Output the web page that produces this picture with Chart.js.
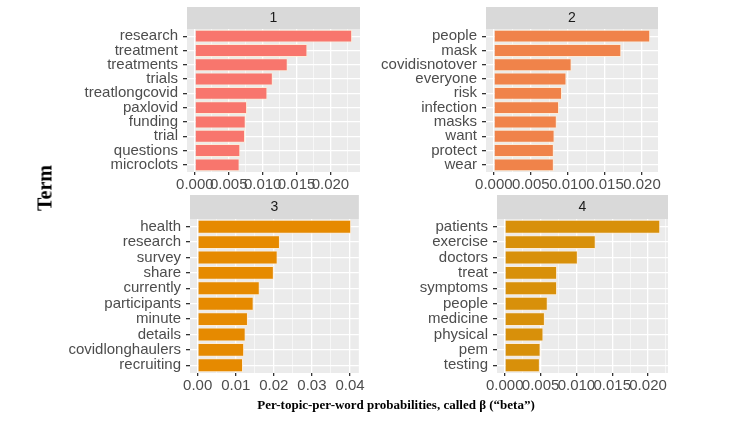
<!DOCTYPE html>
<html>
<head>
<meta charset="utf-8">
<script src="https://cdn.jsdelivr.net/npm/chart.js@4.4.1/dist/chart.umd.min.js"></script>
<style>
  body { margin: 0; background: #ffffff; }
  #wrap { position: relative; width: 750px; height: 422px; overflow: hidden; background: #fff; }
  canvas { position: absolute; }
  .axis-title { position: absolute; font-family: "Liberation Serif", "DejaVu Serif", serif; font-weight: bold; color: #000; white-space: nowrap; }
  #yTitle { left: 45px; top: 188px; font-size: 20px; transform: translate(-50%, -50%) rotate(-90deg); }
  #xTitle { left: 396px; top: 405px; font-size: 13px; transform: translate(-50%, -50%); }
</style>
</head>
<body>
<div id="wrap">
  <canvas id="p1" width="365" height="195" style="left:0px;top:0px"></canvas>
  <canvas id="p2" width="290" height="195" style="left:375px;top:0px"></canvas>
  <canvas id="p3" width="366" height="206" style="left:0px;top:190px"></canvas>
  <canvas id="p4" width="298" height="206" style="left:375px;top:190px"></canvas>
  <div id="yTitle" class="axis-title">Term</div>
  <div id="xTitle" class="axis-title">Per-topic-per-word probabilities, called β (“beta”)</div>
</div>
<script>
// Topic 1
const terms1 = ['research', 'treatment', 'treatments', 'trials', 'treatlongcovid', 'paxlovid', 'funding', 'trial', 'questions', 'microclots'];
const beta1 = [0.0232, 0.0166, 0.0137, 0.0115, 0.0107, 0.0077, 0.0075, 0.0074, 0.0067, 0.0066];

// Topic 2
const terms2 = ['people', 'mask', 'covidisnotover', 'everyone', 'risk', 'infection', 'masks', 'want', 'protect', 'wear'];
const beta2 = [0.0211, 0.0172, 0.0105, 0.0098, 0.0092, 0.0088, 0.0085, 0.0082, 0.0081, 0.0081];

// Topic 3
const terms3 = ['health', 'research', 'survey', 'share', 'currently', 'participants', 'minute', 'details', 'covidlonghaulers', 'recruiting'];
const beta3 = [0.0403, 0.0216, 0.0210, 0.0200, 0.0163, 0.0147, 0.0132, 0.0126, 0.0122, 0.0119];

// Topic 4
const terms4 = ['patients', 'exercise', 'doctors', 'treat', 'symptoms', 'people', 'medicine', 'physical', 'pem', 'testing'];
const beta4 = [0.0217, 0.0127, 0.0102, 0.0073, 0.0073, 0.0060, 0.0056, 0.0054, 0.0050, 0.0049];

// x axis ticks (major + minor grid)
const ticksSmall = [0, 0.005, 0.010, 0.015, 0.020];
const minorSmall = [0.0025, 0.0075, 0.0125, 0.0175, 0.0225];
const ticksLarge = [0, 0.01, 0.02, 0.03, 0.04];
const minorLarge = [0.005, 0.015, 0.025, 0.035];

const topicColors = ['#F8766D', '#F0834A', '#E68A00', '#D8900A'];

// grey panel + strip background
const panelBg = {
  id: 'panelBg',
  beforeDraw(chart) {
    const { ctx, chartArea } = chart;
    const tb = chart.titleBlock;
    ctx.save();
    ctx.fillStyle = '#EBEBEB';
    ctx.fillRect(chartArea.left, chartArea.top, chartArea.right - chartArea.left, chartArea.bottom - chartArea.top);
    ctx.fillStyle = '#D9D9D9';
    ctx.fillRect(chartArea.left, tb.top, chartArea.right - chartArea.left, chartArea.top - tb.top);
    ctx.restore();
  }
};

function makePanel(id, topic, terms, beta, color, major, minor, decimals, box) {
  const maxVal = Math.max(...beta);
  const pad = maxVal * 0.05;
  const all = major.concat(minor).sort((a, b) => a - b);
  const isMajor = v => major.some(m => Math.abs(m - v) < 1e-9);

  return new Chart(document.getElementById(id), {
    type: 'bar',
    data: {
      labels: terms,
      datasets: [{
        data: beta,
        backgroundColor: color,
        borderColor: 'rgba(255, 236, 214, 0.9)',
        borderWidth: 1,
        categoryPercentage: 0.9,
        barPercentage: 1.0
      }]
    },
    plugins: [panelBg],
    options: {
      indexAxis: 'y',
      responsive: false,
      animation: false,
      devicePixelRatio: 1,
      layout: { padding: { top: box.top, right: box.right, left: 0, bottom: 0 } },
      plugins: {
        legend: { display: false },
        tooltip: { enabled: false },
        title: {
          display: true,
          text: topic,
          fullSize: false,
          color: '#1A1A1A',
          font: { family: 'Liberation Sans, Arial, sans-serif', size: 14, weight: 'normal', lineHeight: 16 / 14 },
          padding: { top: box.strip / 2 - 8, bottom: box.strip / 2 - 8 }
        }
      },
      scales: {
        x: {
          type: 'linear',
          min: -pad,
          max: maxVal + pad,
          afterBuildTicks: axis => { axis.ticks = all.map(v => ({ value: v })); },
          afterFit: axis => { axis.height = box.xh; },
          border: { display: false },
          grid: {
            color: '#FFFFFF',
            lineWidth: ctx => isMajor(ctx.tick.value) ? 1.3 : 0.6,
            tickColor: ctx => isMajor(ctx.tick.value) ? '#333333' : 'rgba(0,0,0,0)',
            tickLength: 3,
            drawTicks: true
          },
          ticks: {
            autoSkip: false,
            maxRotation: 0,
            minRotation: 0,
            padding: 1,
            color: '#4D4D4D',
            font: { family: 'Liberation Sans, Arial, sans-serif', size: 15 },
            callback: v => isMajor(v) ? v.toFixed(decimals) : ''
          }
        },
        y: {
          afterFit: axis => { axis.width = box.yw; },
          border: { display: false },
          grid: {
            offset: false,
            color: '#FFFFFF',
            lineWidth: 1.3,
            tickColor: '#333333',
            tickLength: 4
          },
          ticks: {
            autoSkip: false,
            padding: 5,
            color: '#4D4D4D',
            font: { family: 'Liberation Sans, Arial, sans-serif', size: 15 }
          }
        }
      }
    }
  });
}

makePanel('p1', '1', terms1, beta1, topicColors[0], ticksSmall, minorSmall, 3, { top: 7, right: 5, strip: 22, xh: 23, yw: 187 });
makePanel('p2', '2', terms2, beta2, topicColors[1], ticksSmall, minorSmall, 3, { top: 7, right: 7, strip: 22, xh: 23, yw: 111 });
makePanel('p3', '3', terms3, beta3, topicColors[2], ticksLarge, minorLarge, 2, { top: 5, right: 5, strip: 24, xh: 23, yw: 190 });
makePanel('p4', '4', terms4, beta4, topicColors[3], ticksSmall, minorSmall, 3, { top: 5, right: 5, strip: 24, xh: 23, yw: 122 });
</script>
</body>
</html>
